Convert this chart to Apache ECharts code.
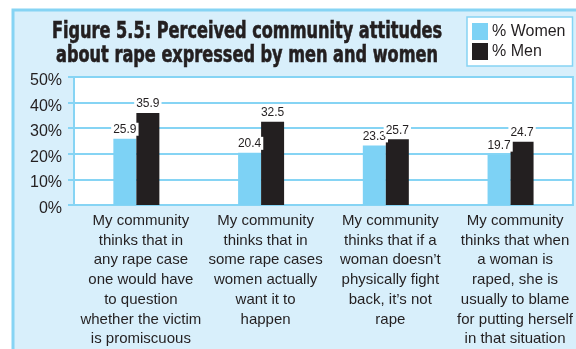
<!DOCTYPE html>
<html>
<head>
<meta charset="utf-8">
<script src="https://cdn.jsdelivr.net/npm/echarts@6/dist/echarts.min.js"></script>
<style>
  html, body { margin: 0; padding: 0; background: #ffffff; }
  #chart { width: 576px; height: 349px; }
</style>
</head>
<body>
<div id="chart"></div>
<script>
// Statements asked about, one per group of bars
const categories = [
  'My community\nthinks that in\nany rape case\none would have\nto question\nwhether the victim\nis promiscuous',
  'My community\nthinks that in\nsome rape cases\nwomen actually\nwant it to\nhappen',
  'My community\nthinks that if a\nwoman doesn\u2019t\nphysically fight\nback, it\u2019s not\nrape',
  'My community\nthinks that when\na woman is\nraped, she is\nusually to blame\nfor putting herself\nin that situation'
];
const seriesNames = ['% Women', '% Men'];
const womenValues = [25.9, 20.4, 23.3, 19.7];
const menValues = [35.9, 32.5, 25.7, 24.7];
const yTicks = [0, 10, 20, 30, 40, 50];
const titleLines = [
  'Figure 5.5: Perceived community attitudes',
  'about rape expressed by men and women'
];

const BLUE_LINE = '#86d4f4';
const PANEL_BG = '#d8effb';
const TEXT = '#231f20';
const CONDENSED = "'DejaVu Sans Condensed', 'Liberation Sans Narrow', sans-serif";
const SANS = "'Liberation Sans', Arial, sans-serif";

const chart = echarts.init(document.getElementById('chart'), null, { renderer: 'canvas' });

const valueLabel = {
  show: true,
  position: 'top',
  distance: 3,
  fontFamily: SANS,
  fontSize: 12,
  color: TEXT,
  backgroundColor: '#ffffff',
  padding: [1, 2, 0, 2],
  formatter: p => p.value.toFixed(1)
};

// Heading: two bold condensed lines, squeezed horizontally around their centre
const titleGraphics = titleLines.map((line, i) => ({
  type: 'text',
  silent: true,
  x: 247,
  y: 32 + i * 24.5,
  scaleX: 0.78,
  style: {
    text: line,
    fontFamily: CONDENSED,
    fontWeight: 'bold',
    fontSize: 23,
    fill: TEXT,
    stroke: TEXT,
    lineWidth: 0.6,
    textAlign: 'center',
    textVerticalAlign: 'middle',
    align: 'center',
    verticalAlign: 'middle'
  }
}));

chart.setOption({
  backgroundColor: '#ffffff',
  animation: false,
  graphic: [{
    type: 'rect',
    z: -10,
    silent: true,
    shape: { x: 13, y: 10, width: 620, height: 400 },
    style: { fill: PANEL_BG, stroke: BLUE_LINE, lineWidth: 3 }
  }].concat(titleGraphics),
  legend: {
    orient: 'vertical',
    left: 467,
    top: 17,
    padding: [6, 7, 6, 5],
    itemWidth: 16,
    itemHeight: 17,
    itemGap: 3,
    backgroundColor: '#ffffff',
    borderColor: BLUE_LINE,
    borderWidth: 1.5,
    borderRadius: 0,
    icon: 'rect',
    data: seriesNames,
    textStyle: { fontFamily: SANS, fontSize: 16, color: TEXT, padding: [0, 0, 0, -1] }
  },
  grid: {
    left: 74,
    right: 3,
    top: 77,
    bottom: 143,
    show: true,
    backgroundColor: '#ffffff',
    borderColor: BLUE_LINE,
    borderWidth: 2,
    containLabel: false
  },
  xAxis: {
    type: 'category',
    data: categories,
    axisLine: { show: true, lineStyle: { color: BLUE_LINE, width: 2 } },
    axisTick: { show: false },
    axisLabel: {
      interval: 0,
      margin: 6,
      fontFamily: SANS,
      fontSize: 15,
      lineHeight: 19.7,
      color: TEXT,
      align: 'center',
      verticalAlign: 'top',
      padding: [0, 0, 0, 9]
    }
  },
  yAxis: {
    type: 'value',
    min: 0,
    max: 50,
    interval: 10,
    axisLine: { show: true, lineStyle: { color: BLUE_LINE, width: 2 } },
    axisTick: { show: true, inside: false, length: 6, lineStyle: { color: BLUE_LINE, width: 2 } },
    splitLine: { show: true, lineStyle: { color: BLUE_LINE, width: 2 } },
    axisLabel: {
      margin: 12,
      fontFamily: SANS,
      fontSize: 16,
      color: TEXT,
      // a short line box hung from the tick sits each label just below its grid line
      verticalAlign: 'top',
      lineHeight: 7,
      formatter: v => (yTicks.includes(v) ? v + '%' : '')
    }
  },
  series: [
    {
      name: seriesNames[0],
      type: 'bar',
      data: womenValues,
      barWidth: 23,
      barGap: '0%',
      itemStyle: { color: '#7dd2f5' },
      label: valueLabel
    },
    {
      name: seriesNames[1],
      type: 'bar',
      data: menValues,
      barWidth: 23,
      barGap: '0%',
      itemStyle: { color: '#231f20' },
      label: valueLabel
    }
  ]
});
</script>
</body>
</html>
